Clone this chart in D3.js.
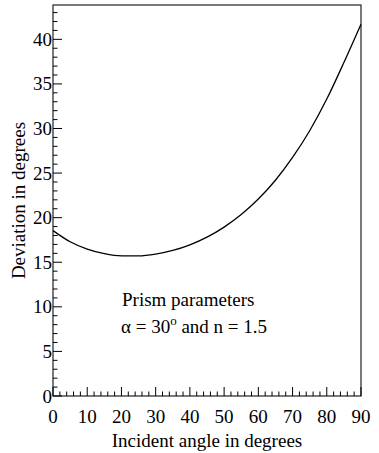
<!DOCTYPE html>
<html>
<head>
<meta charset="utf-8">
<script src="https://cdn.jsdelivr.net/npm/d3@7"></script>
<style>
  body { margin: 0; background: #fff; }
</style>
</head>
<body>
<div id="chart"></div>
<script>
// incident angle (deg) and deviation (deg)
var angles = [0, 5, 10, 15, 20, 25, 30, 35, 40, 45, 50, 55, 60, 65, 70, 75, 80, 85, 90];
var deviation = [18.55, 17.3, 16.48, 15.97, 15.72, 15.71, 15.91, 16.32, 16.95, 17.81, 18.94, 20.35, 22.09, 24.2, 26.75, 29.75, 33.3, 37.4, 41.7];

var xTicks = [0, 10, 20, 30, 40, 50, 60, 70, 80, 90];
var yTicks = [0, 5, 10, 15, 20, 25, 30, 35, 40];

var width = 379,
    height = 453,
    margin = { top: 5, right: 18, bottom: 57, left: 53 },
    yMax = 43.85;

var svg = d3.select('#chart')
    .append('svg')
    .attr('width', width)
    .attr('height', height)
    .style('font-family', '"Liberation Serif", "DejaVu Serif", serif');

var x = d3.scaleLinear()
    .domain([0, 90])
    .range([margin.left, width - margin.right]);

var y = d3.scaleLinear()
    .domain([0, yMax])
    .range([height - margin.bottom, margin.top]);

// frame
svg.append('rect')
    .attr('x', x(0))
    .attr('y', y(yMax))
    .attr('width', x(90) - x(0))
    .attr('height', y(0) - y(yMax))
    .attr('fill', 'none')
    .attr('stroke', '#222')
    .attr('stroke-width', 1.2);

// ticks, major + minor
svg.append('g')
    .selectAll('line')
    .data(d3.range(0, 91, 2))
    .enter().append('line')
    .attr('x1', function(d) { return x(d); })
    .attr('x2', function(d) { return x(d); })
    .attr('y1', y(0))
    .attr('y2', function(d) { return d % 10 === 0 ? y(0) - 9 : y(0) - 4.5; })
    .attr('stroke', '#000');

svg.append('g')
    .selectAll('line')
    .data(d3.range(0, 44, 1))
    .enter().append('line')
    .attr('y1', function(d) { return y(d); })
    .attr('y2', function(d) { return y(d); })
    .attr('x1', x(0))
    .attr('x2', function(d) { return d % 5 === 0 ? x(0) + 9 : x(0) + 4.5; })
    .attr('stroke', '#000');

// tick labels
svg.append('g')
    .selectAll('text')
    .data(xTicks)
    .enter().append('text')
    .attr('x', function(d) { return x(d); })
    .attr('y', y(0) + 27)
    .attr('text-anchor', 'middle')
    .style('font-size', '19px')
    .text(function(d) { return d; });

svg.append('g')
    .selectAll('text')
    .data(yTicks)
    .enter().append('text')
    .attr('x', x(0) - 1)
    .attr('y', function(d) { return y(d) + 6.5; })
    .attr('text-anchor', 'end')
    .style('font-size', '19px')
    .text(function(d) { return d; });

// axis titles
svg.append('text')
    .attr('x', (x(0) + x(90)) / 2)
    .attr('y', y(0) + 51)
    .attr('text-anchor', 'middle')
    .style('font-size', '19px')
    .text('Incident angle in degrees');

svg.append('text')
    .attr('transform', 'translate(25,' + ((y(0) + y(yMax)) / 2) + ') rotate(-90)')
    .attr('text-anchor', 'middle')
    .style('font-size', '19px')
    .text('Deviation in degrees');

// curve
var line = d3.line()
    .curve(d3.curveMonotoneX)
    .x(function(d, i) { return x(angles[i]); })
    .y(function(d) { return y(d); });

svg.append('path')
    .datum(deviation)
    .attr('d', line)
    .attr('fill', 'none')
    .attr('stroke', '#000')
    .attr('stroke-width', 1.3);

// annotation
svg.append('text')
    .attr('x', 122)
    .attr('y', 306)
    .style('font-size', '19px')
    .text('Prism parameters');

var t = svg.append('text')
    .attr('x', 121)
    .attr('y', 333)
    .style('font-size', '19px');
t.append('tspan').text('\u03b1 = 30');
t.append('tspan').attr('dy', -8).style('font-size', '13px').text('o');
t.append('tspan').attr('dy', 8).text(' and n = 1.5');
</script>
</body>
</html>
